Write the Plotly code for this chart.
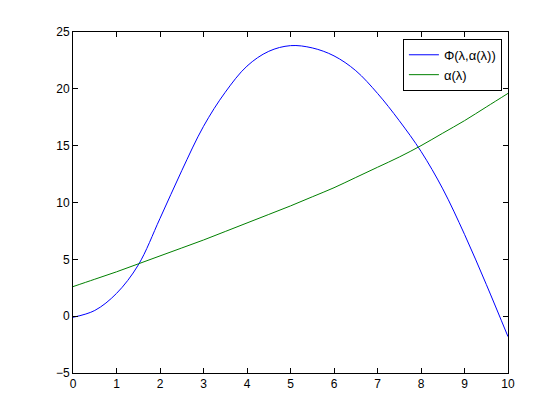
import plotly.graph_objects as go

# lambda values and the two curves
lam = [0, 0.5, 1, 1.5, 2, 2.5, 3, 3.5, 4, 4.5, 5, 5.5, 6, 6.5, 7, 7.5, 8, 8.5, 9, 9.5, 10]
phi = [-0.1, 0.5, 2.0, 4.5, 8.6, 12.8, 16.7, 19.7, 22.0, 23.3, 23.8, 23.6, 22.9, 21.6, 19.6, 17.2, 14.5, 11.2, 7.2, 2.8, -1.8]
alpha = [2.6, 3.25, 3.9, 4.6, 5.3, 6.0, 6.7, 7.45, 8.2, 8.95, 9.7, 10.5, 11.3, 12.2, 13.1, 14.0, 15.0, 16.1, 17.2, 18.4, 19.6]

xticks = [0, 1, 2, 3, 4, 5, 6, 7, 8, 9, 10]
yticks = [-5, 0, 5, 10, 15, 20, 25]

fig = go.Figure()
fig.add_trace(go.Scatter(x=lam, y=phi, mode="lines", name="Φ(λ,α(λ))",
                         line=dict(color="#0000ff", width=1, shape="spline")))
fig.add_trace(go.Scatter(x=lam, y=alpha, mode="lines", name="α(λ)",
                         line=dict(color="#008000", width=1, shape="spline")))

axis_style = dict(showline=True, linecolor="black", linewidth=1, mirror="ticks",
                  ticks="inside", ticklen=5, tickcolor="black", showgrid=False,
                  zeroline=False, tickfont=dict(family="Liberation Sans, Arial", size=12, color="black"))

fig.update_xaxes(range=[0, 10], tickvals=xticks, **axis_style)
fig.update_yaxes(range=[-5, 25], tickvals=yticks, **axis_style)

# the page body adds ~8px offset, so margins are shifted to compensate
fig.update_layout(
    width=560, height=420,
    margin=dict(l=65, r=60, t=24, b=55),
    paper_bgcolor="white", plot_bgcolor="white",
    font=dict(family="Liberation Sans, Arial", size=12, color="black"),
    legend=dict(x=0.986, y=0.98, xanchor="right", yanchor="top",
                bordercolor="black", borderwidth=1, bgcolor="white",
                font=dict(size=13), tracegroupgap=0),
)

fig.write_html("out.html")
